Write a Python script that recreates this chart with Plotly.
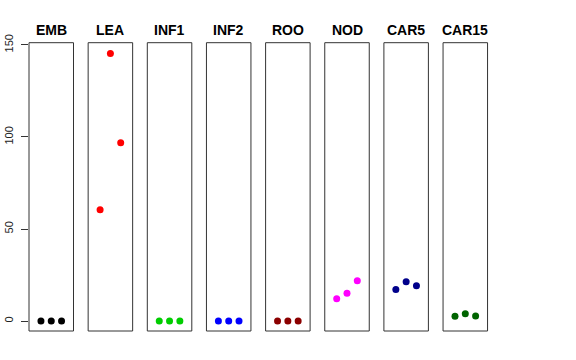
import plotly.graph_objects as go

OFF = 0
W, H = 576, 360

tissues = ["EMB", "LEA", "INF1", "INF2", "ROO", "NOD", "CAR5", "CAR15"]
rep_positions = [1, 2, 3]
emb_vals = [0.0, 0.0, 0.0]
lea_vals = [60.5, 145.3, 96.9]
inf1_vals = [0.0, 0.0, 0.0]
inf2_vals = [0.0, 0.0, 0.0]
roo_vals = [0.0, 0.0, 0.0]
nod_vals = [12.1, 15.1, 21.9]
car5_vals = [17.2, 21.4, 19.2]
car15_vals = [2.6, 4.0, 2.7]
series = [emb_vals, lea_vals, inf1_vals, inf2_vals, roo_vals, nod_vals, car5_vals, car15_vals]
colors = ["#000000", "#FF0000", "#00CD00", "#0000FF", "#8B0000", "#FF00FF", "#00008B", "#006400"]
y_ticks = [0, 50, 100, 150]

left0, step, pw = 29.0, 59.15, 44.5
top_px, bot_px = 42.7, 331.0


def fx(px):
    return (px - OFF) / W


def fy(py):
    return 1 - (py - OFF) / H


fig = go.Figure()
layout = dict(
    width=W, height=H,
    margin=dict(l=0, r=0, t=0, b=0),
    paper_bgcolor="white", plot_bgcolor="white",
    showlegend=False,
    font=dict(family="Liberation Sans, Arial, sans-serif", color="#000"),
)
shapes = []
annotations = []
for i, (name, vals, col) in enumerate(zip(tissues, series, colors)):
    ax = "x" if i == 0 else f"x{i+1}"
    key = "xaxis" if i == 0 else f"xaxis{i+1}"
    x0 = fx(left0 + i * step)
    x1 = fx(left0 + i * step + pw)
    layout[key] = dict(domain=[x0, x1], range=[-0.16, 4.16], visible=False,
                       anchor="y", fixedrange=True)
    fig.add_trace(go.Scatter(x=rep_positions, y=vals, mode="markers", xaxis=ax, yaxis="y",
                             marker=dict(color=col, size=7, line=dict(width=0))))
    shapes.append(dict(type="rect", xref=f"{ax} domain", yref="y domain",
                       x0=0, x1=1, y0=0, y1=1, line=dict(color="#333", width=1),
                       fillcolor="rgba(0,0,0,0)"))
    annotations.append(dict(text=f"<b>{name}</b>", x=(x0 + x1) / 2, y=fy(30),
                            xref="paper", yref="paper", showarrow=False,
                            font=dict(size=14, color="#000"),
                            xanchor="center", yanchor="middle"))

layout["yaxis"] = dict(domain=[fy(bot_px), fy(top_px)], range=[-5.4, 151.2],
                       anchor="x", tickvals=y_ticks, ticks="outside", ticklen=7,
                       tickcolor="#333", showgrid=False, zeroline=False, showline=False,
                       tickangle=-90, tickfont=dict(size=11, color="#222"),
                       ticklabelstandoff=4, automargin=False, fixedrange=True)
layout["shapes"] = shapes
layout["annotations"] = annotations
fig.update_layout(**layout)
fig.write_html("out.html", config={"displayModeBar": False},
               post_script="document.body.style.margin='0';document.body.style.overflow='hidden';")
